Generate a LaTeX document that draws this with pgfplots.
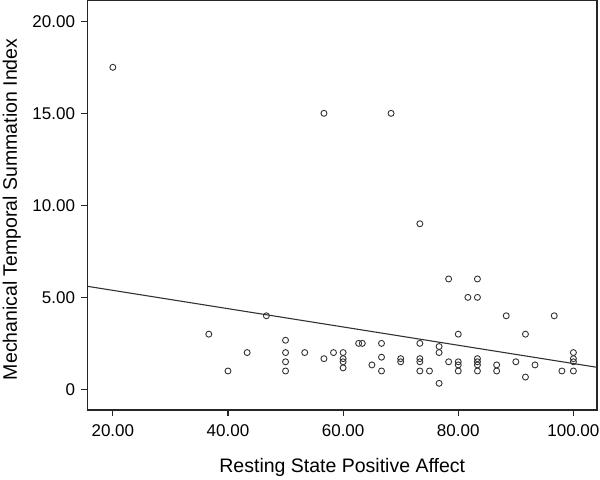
\documentclass[border=0pt]{standalone}
\usepackage{fontspec}
\setmainfont{Liberation Sans}
\usepackage{pgfplots}
\pgfplotsset{compat=1.18}
\begin{document}
\begin{tikzpicture}
\begin{axis}[
 scale only axis, width=509.5pt, height=409.5pt,
 xmin=15.6, xmax=104.1, ymin=-1.12, ymax=21.13,
 axis line style={draw=black!85, line width=1.2pt},
 tick pos=left, tick align=outside,
 major tick length=6pt,
 tick style={draw=black!85, line width=1.2pt},
 xtick={20,40,60,80,100}, xticklabels={20.00,40.00,60.00,80.00,100.00},
 ytick={0,5,10,15,20}, yticklabels={0,5.00,10.00,15.00,20.00},
 ticklabel style={font=\fontsize{17}{20}\selectfont, text=black},
 xticklabel style={yshift=-5pt},
 yticklabel style={xshift=-3pt},
 xlabel={Resting State Positive Affect},
 ylabel={Mechanical Temporal Summation Index},
 label style={font=\fontsize{19.5}{22}\selectfont, text=black},
 xlabel style={at={(axis description cs:0.5,-0.1538)}, anchor=base},
 ylabel style={at={(axis description cs:-0.1384,0.49)}, anchor=base},
]
\addplot[only marks, mark=o, mark size=3pt, mark options={line width=0.9pt, draw=black!80}] coordinates {
(20,17.5) (56.67,15) (68.33,15) (73.33,9) (78.33,6) (83.33,6) (81.67,5) (83.33,5)
(46.67,4) (88.33,4) (96.67,4) (36.67,3) (80,3) (91.67,3)
(50,2.67) (50,2) (50,1.5) (50,1) (40,1) (43.33,2) (53.33,2) (56.67,1.67) (58.33,2)
(60,2) (60,1.67) (60,1.5) (60,1.17) (62.7,2.5) (63.33,2.5) (65,1.33)
(66.67,2.5) (66.67,1.75) (66.67,1) (70,1.67) (70,1.5)
(73.33,2.5) (73.33,1.67) (73.33,1.5) (73.33,1) (75,1)
(76.67,2.33) (76.67,2) (76.67,0.33) (78.33,1.5)
(80,1.5) (80,1.33) (80,1) (83.33,1.67) (83.33,1.5) (83.33,1.33) (83.33,1)
(86.67,1.33) (86.67,1) (90,1.5) (91.67,0.67) (93.33,1.33) (98,1)
(100,2) (100,1.67) (100,1.5) (100,1)
};
\addplot[black!80, line width=1.1pt] coordinates {(15.6,5.6) (104.1,1.2)};
\coordinate (sw) at (rel axis cs:0,0);
\coordinate (ne) at (rel axis cs:1,1);
\end{axis}
\pgfresetboundingbox
\path ([shift={(-87.5pt,-69pt)}]sw) rectangle ([shift={(3pt,0.5pt)}]ne);
\end{tikzpicture}
\end{document}
